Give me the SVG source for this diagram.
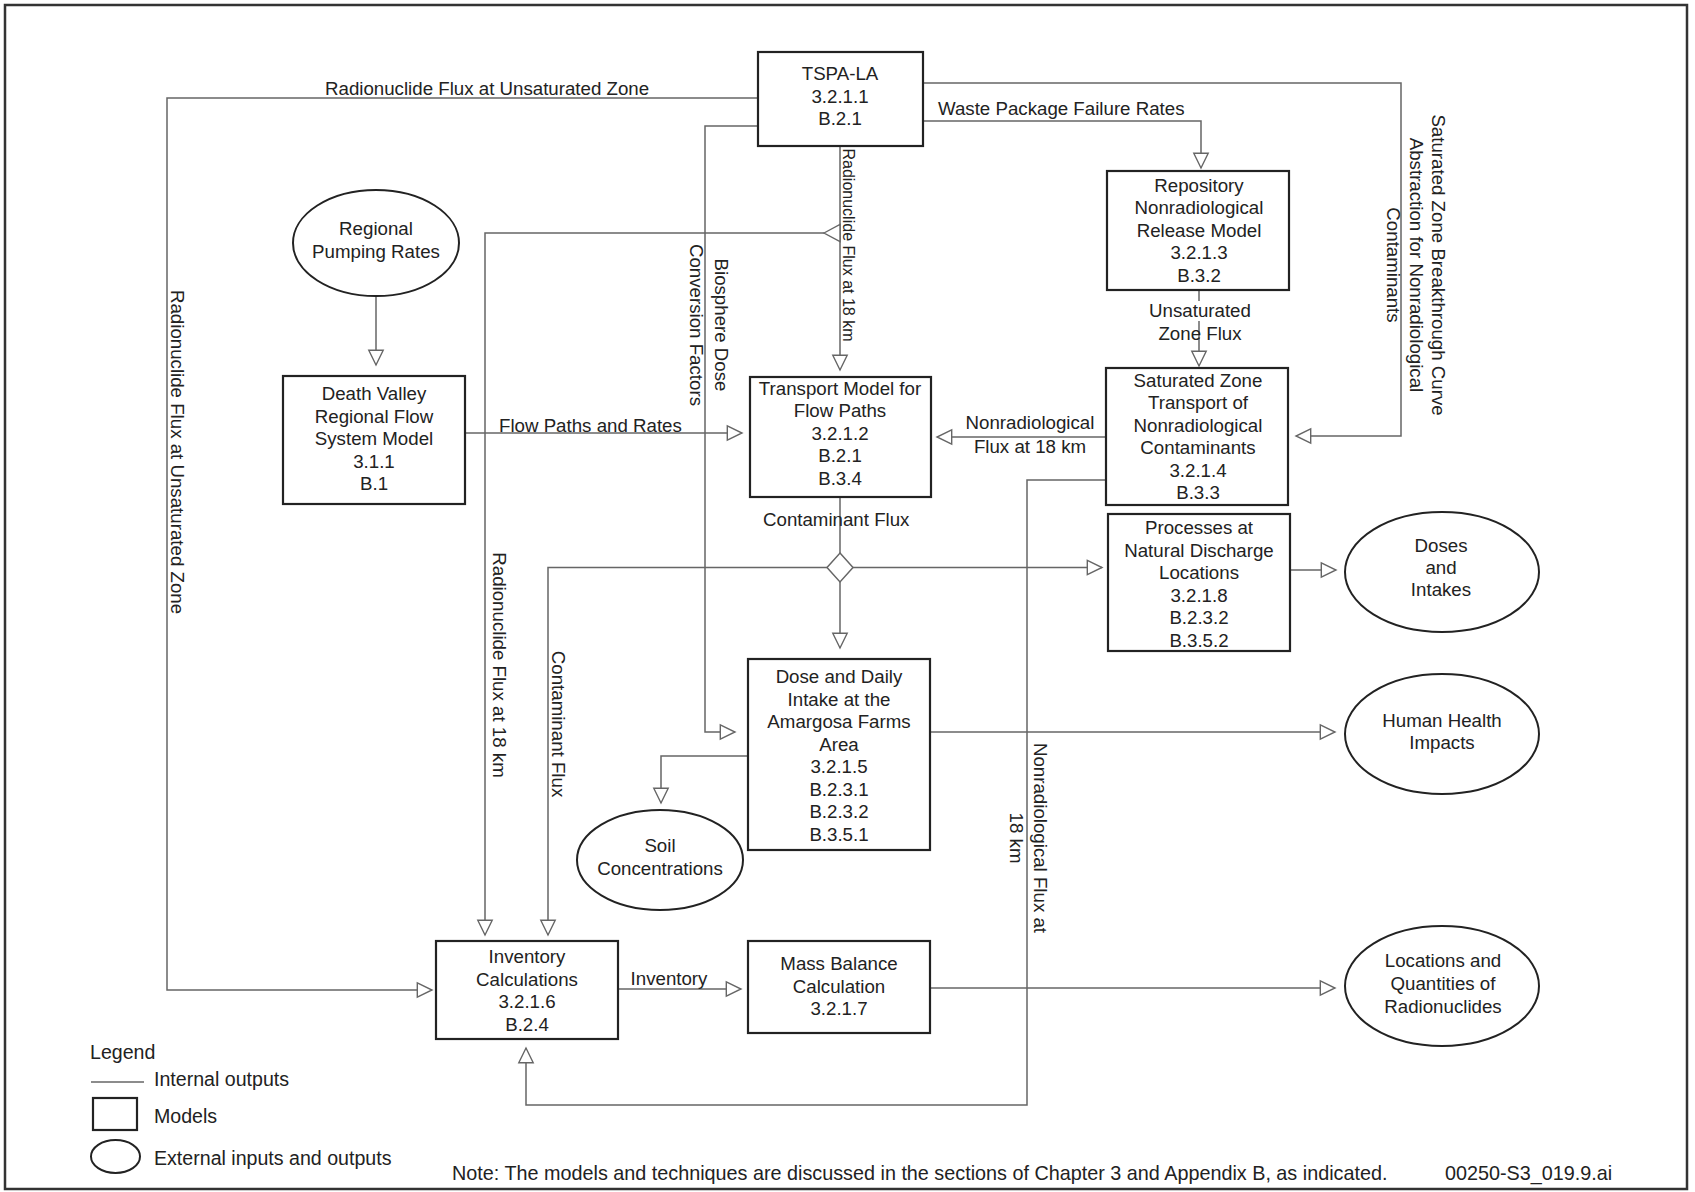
<svg xmlns="http://www.w3.org/2000/svg" width="1695" height="1192" viewBox="0 0 1695 1192">
<defs>
<marker id="arr" markerUnits="userSpaceOnUse" markerWidth="18" markerHeight="18" refX="15.5" refY="8" orient="auto" overflow="visible">
<path d="M0.8,0.8 L15.5,8 L0.8,15.2 Z" fill="#fff" stroke="#666" stroke-width="1.4"/>
</marker>
</defs>
<style>
text{font-family:"Liberation Sans",Arial,Helvetica,sans-serif;font-size:18.7px;fill:#222}
.c{text-anchor:middle}
.sm{font-size:16px}
.lg{font-size:19.6px}
.nt{font-size:19.8px}
.box{fill:#fff;stroke:#222;stroke-width:2.2}
.ell{fill:#fff;stroke:#222;stroke-width:2}
.ln{fill:none;stroke:#666;stroke-width:1.5}
.ar{fill:none;stroke:#666;stroke-width:1.5;marker-end:url(#arr)}
</style>
<rect x="0" y="0" width="1695" height="1192" fill="#fff"/>
<rect x="5" y="5" width="1682" height="1184" fill="none" stroke="#333" stroke-width="2.5"/>

<g id="connectors">
<path class="ar" d="M376,297 V365"/>
<path class="ar" d="M758,98 H167 V990 H432"/>
<path class="ar" d="M758,126 H705 V732 H735"/>
<path class="ar" d="M840,146 V370"/>
<path class="ar" d="M824,233 H485 V935"/>
<polygon points="824,233 840,224.5 840,241.5" fill="#fff" stroke="#666" stroke-width="1.4"/>
<path class="ar" d="M923,121 H1201 V168"/>
<path class="ar" d="M923,83 H1401 V436 H1296"/>
<path class="ar" d="M1199,290 V366"/>
<path class="ar" d="M1106,437 H937"/>
<path class="ar" d="M465,433 H742"/>
<path class="ln" d="M840,497 V553"/>
<polygon points="840,553 853,567.5 840,582 827,567.5" fill="#fff" stroke="#666" stroke-width="1.5"/>
<path class="ar" d="M827,567.5 H548 V935"/>
<path class="ar" d="M853,567.5 H1102"/>
<path class="ar" d="M840,582 V648"/>
<path class="ar" d="M1290,570 H1336"/>
<path class="ar" d="M930,732 H1335"/>
<path class="ar" d="M748,756 H661 V803"/>
<path class="ar" d="M1106,480 H1027 V1105 H526 V1048"/>
<path class="ar" d="M618,989 H741"/>
<path class="ar" d="M930,988 H1335"/>
</g>

<g id="edge-labels">
<text x="325" y="95">Radionuclide Flux at Unsaturated Zone</text>
<text class="c" transform="translate(171,452) rotate(90)">Radionuclide Flux at Unsaturated Zone</text>
<g transform="translate(0,325) rotate(90)">
<text class="c" x="0" y="-715">Biosphere Dose</text>
<text class="c" x="0" y="-690">Conversion Factors</text>
</g>
<text class="c sm" transform="translate(843,245) rotate(90)">Radionuclide Flux at 18 km</text>
<text class="c" transform="translate(493,665) rotate(90)">Radionuclide Flux at 18 km</text>
<text class="c" transform="translate(552,724) rotate(90)">Contaminant Flux</text>
<text x="938" y="115">Waste Package Failure Rates</text>
<g transform="translate(0,265) rotate(90)">
<text class="c" x="0" y="-1432">Saturated Zone Breakthrough Curve</text>
<text class="c" x="0" y="-1410">Abstraction for Nonradiological</text>
<text class="c" x="0" y="-1387">Contaminants</text>
</g>
<rect x="1152" y="301" width="96" height="20" fill="#fff"/>
<text class="c" x="1200" y="317">Unsaturated</text>
<text class="c" x="1200" y="340">Zone Flux</text>
<text class="c" x="1030" y="429">Nonradiological</text>
<text class="c" x="1030" y="453">Flux at 18 km</text>
<text x="499" y="432">Flow Paths and Rates</text>
<text x="763" y="526">Contaminant Flux</text>
<g transform="translate(0,838) rotate(90)">
<text class="c" x="0" y="-1034">Nonradiological Flux at</text>
<text class="c" x="0" y="-1010">18 km</text>
</g>
<text class="c" x="669" y="985">Inventory</text>
</g>

<g id="tspa">
<rect class="box" x="758" y="52" width="165" height="94"/>
<text class="c" x="840" y="80">TSPA-LA</text>
<text class="c" x="840" y="103">3.2.1.1</text>
<text class="c" x="840" y="125">B.2.1</text>
</g>

<g id="regional-pumping">
<ellipse class="ell" cx="376" cy="243" rx="83" ry="53"/>
<text class="c" x="376" y="235">Regional</text>
<text class="c" x="376" y="258">Pumping Rates</text>
</g>

<g id="death-valley">
<rect class="box" x="283" y="376" width="182" height="128"/>
<text class="c" x="374" y="400">Death Valley</text>
<text class="c" x="374" y="422.5">Regional Flow</text>
<text class="c" x="374" y="445">System Model</text>
<text class="c" x="374" y="467.5">3.1.1</text>
<text class="c" x="374" y="490">B.1</text>
</g>

<g id="transport-model">
<rect class="box" x="750" y="377" width="181" height="120"/>
<text class="c" x="840" y="395">Transport Model for</text>
<text class="c" x="840" y="417">Flow Paths</text>
<text class="c" x="840" y="439.5">3.2.1.2</text>
<text class="c" x="840" y="462">B.2.1</text>
<text class="c" x="840" y="484.5">B.3.4</text>
</g>

<g id="repository">
<rect class="box" x="1107" y="171" width="182" height="119"/>
<text class="c" x="1199" y="191.5">Repository</text>
<text class="c" x="1199" y="214">Nonradiological</text>
<text class="c" x="1199" y="236.5">Release Model</text>
<text class="c" x="1199" y="259">3.2.1.3</text>
<text class="c" x="1199" y="281.5">B.3.2</text>
</g>

<g id="saturated-zone">
<rect class="box" x="1106" y="368" width="182" height="137"/>
<text class="c" x="1198" y="387">Saturated Zone</text>
<text class="c" x="1198" y="409">Transport of</text>
<text class="c" x="1198" y="431.5">Nonradiological</text>
<text class="c" x="1198" y="454">Contaminants</text>
<text class="c" x="1198" y="476.5">3.2.1.4</text>
<text class="c" x="1198" y="499">B.3.3</text>
</g>

<g id="processes">
<rect class="box" x="1108" y="514" width="182" height="137"/>
<text class="c" x="1199" y="534">Processes at</text>
<text class="c" x="1199" y="556.5">Natural Discharge</text>
<text class="c" x="1199" y="579">Locations</text>
<text class="c" x="1199" y="601.5">3.2.1.8</text>
<text class="c" x="1199" y="624">B.2.3.2</text>
<text class="c" x="1199" y="646.5">B.3.5.2</text>
</g>

<g id="doses">
<ellipse class="ell" cx="1442" cy="572" rx="97" ry="60"/>
<text class="c" x="1441" y="552">Doses</text>
<text class="c" x="1441" y="574">and</text>
<text class="c" x="1441" y="596">Intakes</text>
</g>

<g id="human-health">
<ellipse class="ell" cx="1442" cy="734" rx="97" ry="60"/>
<text class="c" x="1442" y="727">Human Health</text>
<text class="c" x="1442" y="749">Impacts</text>
</g>

<g id="dose-daily">
<rect class="box" x="748" y="659" width="182" height="191"/>
<text class="c" x="839" y="683">Dose and Daily</text>
<text class="c" x="839" y="705.5">Intake at the</text>
<text class="c" x="839" y="728">Amargosa Farms</text>
<text class="c" x="839" y="750.5">Area</text>
<text class="c" x="839" y="773">3.2.1.5</text>
<text class="c" x="839" y="795.5">B.2.3.1</text>
<text class="c" x="839" y="818">B.2.3.2</text>
<text class="c" x="839" y="840.5">B.3.5.1</text>
</g>

<g id="soil">
<ellipse class="ell" cx="660" cy="860" rx="83" ry="50"/>
<text class="c" x="660" y="852">Soil</text>
<text class="c" x="660" y="875">Concentrations</text>
</g>

<g id="inventory">
<rect class="box" x="436" y="941" width="182" height="98"/>
<text class="c" x="527" y="963">Inventory</text>
<text class="c" x="527" y="985.5">Calculations</text>
<text class="c" x="527" y="1008">3.2.1.6</text>
<text class="c" x="527" y="1030.5">B.2.4</text>
</g>

<g id="mass-balance">
<rect class="box" x="748" y="941" width="182" height="92"/>
<text class="c" x="839" y="970">Mass Balance</text>
<text class="c" x="839" y="992.5">Calculation</text>
<text class="c" x="839" y="1015">3.2.1.7</text>
</g>

<g id="locations">
<ellipse class="ell" cx="1442" cy="986" rx="97" ry="60"/>
<text class="c" x="1443" y="967">Locations and</text>
<text class="c" x="1443" y="990">Quantities of</text>
<text class="c" x="1443" y="1012.5">Radionuclides</text>
</g>

<g id="legend">
<text class="lg" x="90" y="1058.5">Legend</text>
<line x1="91" y1="1082" x2="144" y2="1082" stroke="#666" stroke-width="1.5"/>
<text class="lg" x="154" y="1086">Internal outputs</text>
<rect class="box" x="93" y="1098" width="44" height="32"/>
<text class="lg" x="154" y="1122.5">Models</text>
<ellipse class="ell" cx="115.5" cy="1156.5" rx="24.5" ry="16.5"/>
<text class="lg" x="154" y="1165">External inputs and outputs</text>
</g>

<g id="notes">
<text class="nt" x="452" y="1180">Note: The models and techniques are discussed in the sections of Chapter 3 and Appendix B, as indicated.</text>
<text class="nt" x="1445" y="1180">00250-S3_019.9.ai</text>
</g>
</svg>
